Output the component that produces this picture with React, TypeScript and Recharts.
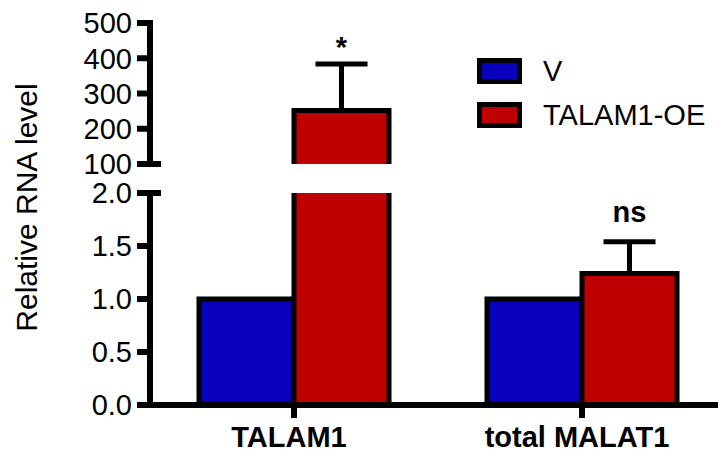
import React from 'react'
import { BarChart, Bar, XAxis, YAxis, ErrorBar, Legend } from 'recharts'

// data (broken y axis: 0–2 below, 100–500 above)
const categories = ['TALAM1', 'total MALAT1']
const seriesNames = ['V', 'TALAM1-OE']
const vValues = [1.0, 1.0]
const oeValues = [252, 1.24]
const oeErrors = [132, 0.3]
const marks = ['*', 'ns']
const upperTicks = [100, 200, 300, 400, 500]
const lowerTicks = [0, 0.5, 1.0, 1.5, 2.0]

const BLUE = '#0800bc'
const RED = '#c00000'
const FONT = '"Liberation Sans", Arial, sans-serif'
const CHART_W = 726
const AXIS_W = 150
const UPPER_H = 190
const UPPER_PLOT_BOTTOM = 164
const LOWER_TOP = 170
const LOWER_H = 289

const upperMin = upperTicks[0]
const upperMax = upperTicks[upperTicks.length - 1]
const lowerMax = lowerTicks[lowerTicks.length - 1]

const upperData = categories.map((name, i) => {
  const show = oeValues[i] > upperMin
  return {
    name,
    v: vValues[i] > upperMin ? vValues[i] : null,
    oe: show ? oeValues[i] : null,
    oeErr: show ? [0, oeErrors[i]] : null,
    mark: show ? marks[i] : null,
  }
})

const lowerData = categories.map((name, i) => {
  const fits = oeValues[i] <= lowerMax
  return {
    name,
    v: vValues[i],
    oe: oeValues[i],
    oeErr: fits ? [0, oeErrors[i]] : null,
    mark: fits ? marks[i] : null,
  }
})

// bar with a black outline on left/top/right, plus the significance mark
function makeShape(base: number, key: 'v' | 'oe') {
  return (props: any) => {
    const { x, y, width, height, fill, payload } = props
    if (!width || !height || height <= 0) return <g />
    let mark = null
    if (key === 'oe' && payload.mark && payload.oeErr) {
      const pxPerUnit = height / (payload.oe - base)
      const errTop = y - payload.oeErr[1] * pxPerUnit
      const lift = payload.mark === '*' ? 7 : 20
      mark = (
        <text
          x={x + width / 2}
          y={errTop - lift}
          textAnchor="middle"
          fontFamily={FONT}
          fontWeight="bold"
          fontSize={29}
          fill="#000"
        >
          {payload.mark}
        </text>
      )
    }
    return (
      <g>
        <rect x={x} y={y} width={width} height={height} fill={fill} />
        <path
          d={`M${x},${y + height}L${x},${y}L${x + width},${y}L${x + width},${y + height}`}
          fill="none"
          stroke="#000"
          strokeWidth={5}
        />
        {mark}
      </g>
    )
  }
}

const YTick = ({ x, y, payload, brk, digits }: any) => {
  const axisX = x + 18
  return (
    <g>
      {payload.value === brk && (
        <line x1={axisX} x2={axisX + 11} y1={y} y2={y} stroke="#000" strokeWidth={6} />
      )}
      <text x={x} y={y} dy="0.355em" textAnchor="end" fontFamily={FONT} fontSize={29} fill="#000">
        {Number(payload.value).toFixed(digits)}
      </text>
    </g>
  )
}

const XTick = ({ x, y, payload }: any) => (
  <text
    x={x - 5}
    y={y + 27}
    textAnchor="middle"
    fontFamily={FONT}
    fontWeight="bold"
    fontSize={29}
    fill="#000"
  >
    {payload.value}
  </text>
)

const renderLegend = ({ payload }: any) => {
  const items = [...(payload || [])].sort(
    (a: any, b: any) => seriesNames.indexOf(a.value) - seriesNames.indexOf(b.value)
  )
  return (
    <div style={{ fontFamily: FONT }}>
      {items.map((item: any) => (
        <div key={item.value} style={{ display: 'flex', alignItems: 'center', height: 44 }}>
          <div
            style={{
              width: 45,
              height: 26,
              boxSizing: 'border-box',
              border: '5px solid #000',
              background: item.color,
            }}
          />
          <span style={{ marginLeft: 21, fontSize: 29, lineHeight: '29px', color: '#000' }}>
            {item.value}
          </span>
        </div>
      ))}
    </div>
  )
}

const axisLine = { stroke: '#000', strokeWidth: 6, strokeLinecap: 'square' as const }
const tickLine = { stroke: '#000', strokeWidth: 6 }

export default function App() {
  return (
    <div
      style={{
        position: 'fixed',
        left: 0,
        top: 0,
        width: 718,
        height: 459,
        overflow: 'hidden',
        background: '#fff',
      }}
    >
      <div style={{ position: 'absolute', left: 0, top: 0 }}>
        <BarChart
          width={CHART_W}
          height={UPPER_H}
          data={upperData}
          margin={{ top: 23, right: 0, bottom: UPPER_H - UPPER_PLOT_BOTTOM, left: 0 }}
          barSize={95}
          barGap={0}
        >
          <XAxis dataKey="name" hide />
          <YAxis
            type="number"
            width={AXIS_W}
            domain={[upperMin, upperMax]}
            ticks={upperTicks}
            interval={0}
            allowDataOverflow
            axisLine={axisLine}
            tickLine={tickLine}
            tickSize={13}
            tickMargin={5}
            tick={(p: any) => <YTick {...p} brk={upperMin} digits={0} />}
          />
          <Legend
            layout="vertical"
            align="center"
            verticalAlign="middle"
            wrapperStyle={{ left: 477, top: 49, width: 'auto' }}
            content={renderLegend}
          />
          <Bar dataKey="v" name={seriesNames[0]} fill={BLUE} shape={makeShape(upperMin, 'v')} isAnimationActive={false} />
          <Bar dataKey="oe" name={seriesNames[1]} fill={RED} shape={makeShape(upperMin, 'oe')} isAnimationActive={false}>
            <ErrorBar dataKey="oeErr" direction="y" width={26} strokeWidth={5} stroke="#000" isAnimationActive={false} />
          </Bar>
        </BarChart>
      </div>

      <div style={{ position: 'absolute', left: 0, top: LOWER_TOP }}>
        <BarChart
          width={CHART_W}
          height={LOWER_H}
          data={lowerData}
          margin={{ top: 23, right: 0, bottom: 0, left: 0 }}
          barSize={95}
          barGap={0}
        >
          <XAxis
            dataKey="name"
            height={54}
            axisLine={axisLine}
            tickLine={tickLine}
            tickSize={13}
            tickMargin={2}
            interval={0}
            tick={<XTick />}
          />
          <YAxis
            type="number"
            width={AXIS_W}
            domain={[0, lowerMax]}
            ticks={lowerTicks}
            interval={0}
            allowDataOverflow
            axisLine={axisLine}
            tickLine={tickLine}
            tickSize={13}
            tickMargin={5}
            tick={(p: any) => <YTick {...p} brk={lowerMax} digits={1} />}
          />
          <Bar dataKey="v" name={seriesNames[0]} fill={BLUE} shape={makeShape(0, 'v')} isAnimationActive={false} />
          <Bar dataKey="oe" name={seriesNames[1]} fill={RED} shape={makeShape(0, 'oe')} isAnimationActive={false}>
            <ErrorBar dataKey="oeErr" direction="y" width={26} strokeWidth={5} stroke="#000" isAnimationActive={false} />
          </Bar>
        </BarChart>
      </div>

      <svg style={{ position: 'absolute', left: 0, top: 0 }} width={60} height={459}>
        <text
          transform="translate(37,207.5) rotate(-90)"
          textAnchor="middle"
          fontFamily={FONT}
          fontSize={30}
          fill="#000"
        >
          Relative RNA level
        </text>
      </svg>
    </div>
  )
}
